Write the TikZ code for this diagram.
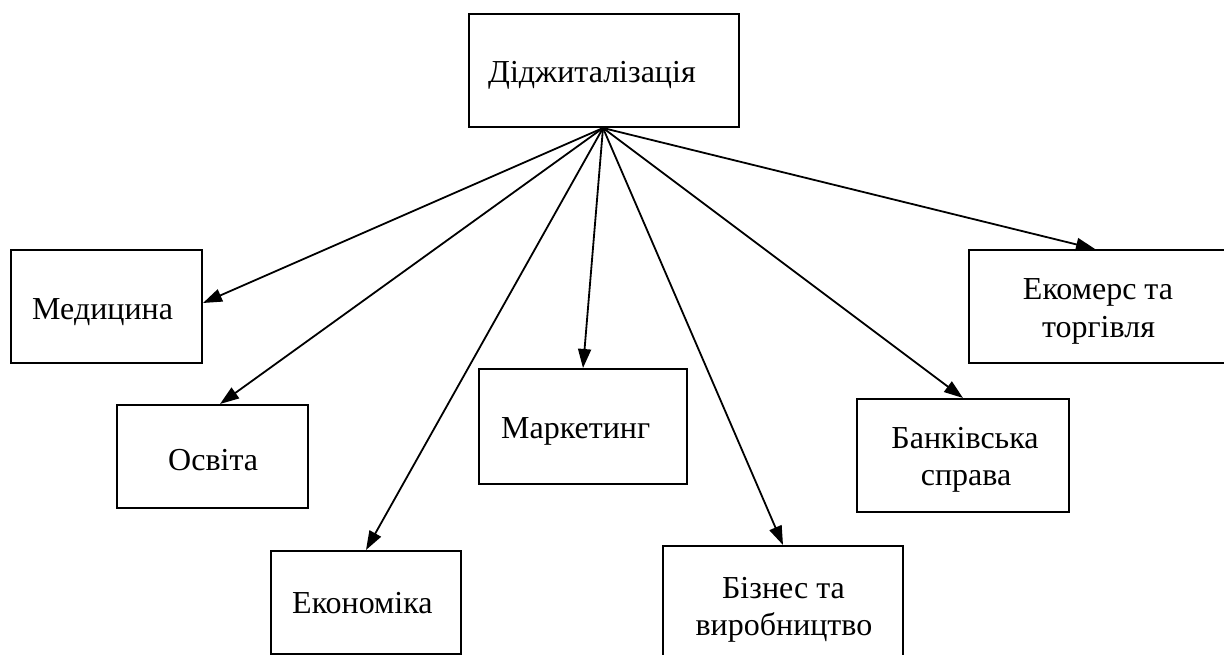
\documentclass[tikz,border=0pt]{standalone}
\usepackage{fontspec}
\setmainfont{Liberation Serif}
\usetikzlibrary{arrows.meta}
\begin{document}
\begin{tikzpicture}[x=1pt,y=-1pt,
  box/.style={draw,line width=2pt,inner sep=0pt,minimum width=#1},
  lbl/.style={inner sep=0pt,font=\fontsize{32}{37}\selectfont},
  conn/.style={line width=1.8pt,-{Triangle[length=19pt,width=13pt]}}]
\useasboundingbox (0,0) rectangle (1224,655);
\clip (0,0) rectangle (1224,655);
% boxes
\node[box=270pt,minimum height=113pt] (top)  at (604,70.5) {};
\node[box=191pt,minimum height=113pt] (med)  at (106.5,306.5) {};
\node[box=191pt,minimum height=103pt] (osv)  at (212.5,456.5) {};
\node[box=190pt,minimum height=103pt] (eko)  at (366,602.5) {};
\node[box=208pt,minimum height=115pt] (mark) at (583,426.5) {};
\node[box=240pt,minimum height=134pt] (biz)  at (783,613) {};
\node[box=212pt,minimum height=113pt] (bank) at (963,455.5) {};
\node[box=259pt,minimum height=113pt] (ekom) at (1098.5,306.5) {};
% texts
\node[lbl,anchor=base west] (ttop)  at (488,83)  {Діджиталізація};
\node[lbl,anchor=base west] (tmed)  at (32,319)  {Медицина};
\node[lbl,anchor=base west] (tosv)  at (168,470) {Освіта};
\node[lbl,anchor=base west] (teko)  at (292,613) {Економіка};
\node[lbl,anchor=base west] (tmark) at (501,438) {Маркетинг};
\node[lbl,anchor=base] (tbiza)  at (783.5,598) {Бізнес та};
\node[lbl,anchor=base] (tbizb)  at (784,635)   {виробництво};
\node[lbl,anchor=base] (tbanka) at (965,448)   {Банківська};
\node[lbl,anchor=base] (tbankb) at (966,485)   {справа};
\node[lbl,anchor=base] (tekoma) at (1098,299)  {Екомерс та};
\node[lbl,anchor=base] (tekomb) at (1098.5,337) {торгівля};
% connectors
\draw[conn] ([xshift=-1pt]top.south) -- ([yshift=3.5pt]med.east);
\draw[conn] ([xshift=-1pt]top.south) -- ([xshift=7.5pt]osv.north);
\draw[conn] ([xshift=-1pt]top.south) -- (eko.north);
\draw[conn] ([xshift=-1pt]top.south) -- (mark.north);
\draw[conn] ([xshift=-1pt]top.south) -- (biz.north);
\draw[conn] ([xshift=-1pt]top.south) -- (bank.north);
\draw[conn] ([xshift=-1pt]top.south) -- ([xshift=-3.5pt]ekom.north);
\end{tikzpicture}
\end{document}
